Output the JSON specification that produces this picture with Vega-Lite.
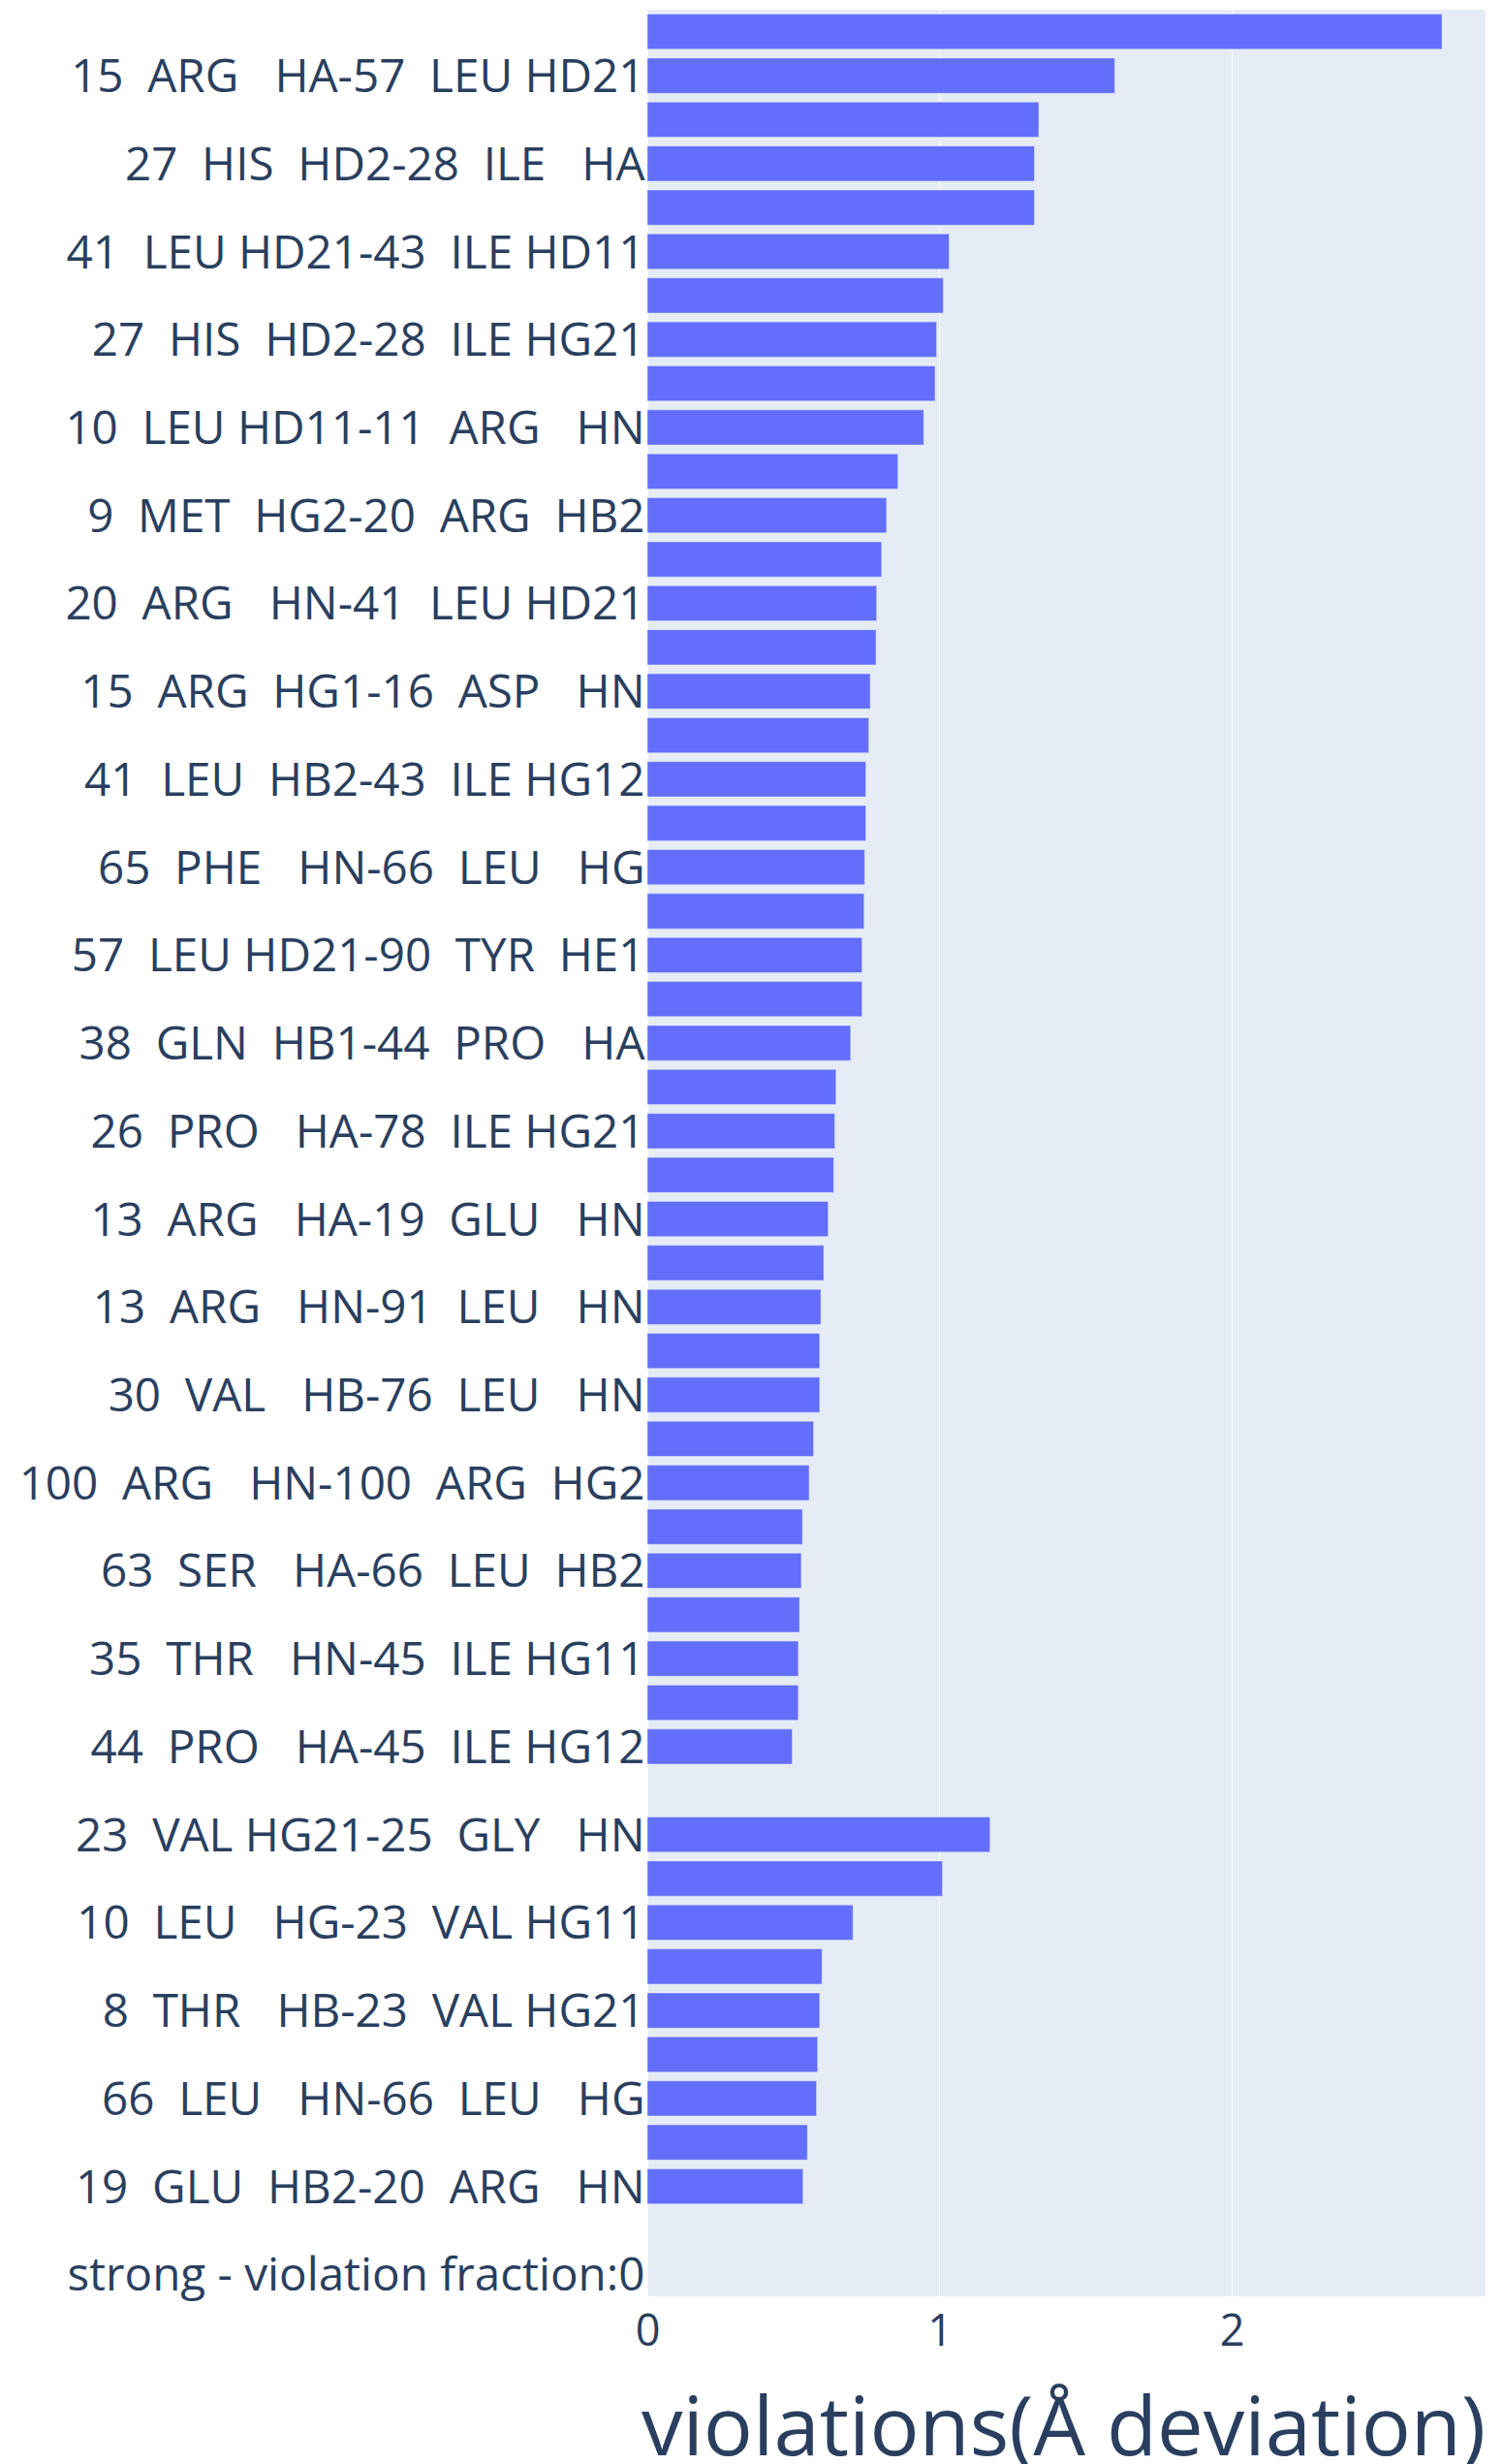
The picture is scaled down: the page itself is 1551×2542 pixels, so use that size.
{
  "$schema": "https://vega.github.io/schema/vega-lite/v6.json",
  "autosize": {"type": "none"},
  "padding": {"left": 668, "top": 10, "right": 18, "bottom": 173},
  "width": 865,
  "height": 2359,
  "background": "white",
  "config": {
    "view": {"fill": "#E5ECF6", "stroke": null},
    "font": "Open Sans"
  },
  "data": {
    "values": [
      {"label": "(unlabelled 51)", "violation": 2.72},
      {"label": "15\u00a0\u00a0ARG\u00a0\u00a0\u00a0HA-57\u00a0\u00a0LEU\u00a0HD21", "violation": 1.6},
      {"label": "(unlabelled 49)", "violation": 1.34},
      {"label": "27\u00a0\u00a0HIS\u00a0\u00a0HD2-28\u00a0\u00a0ILE\u00a0\u00a0\u00a0HA", "violation": 1.325},
      {"label": "(unlabelled 47)", "violation": 1.325},
      {"label": "41\u00a0\u00a0LEU\u00a0HD21-43\u00a0\u00a0ILE\u00a0HD11", "violation": 1.033},
      {"label": "(unlabelled 45)", "violation": 1.013},
      {"label": "27\u00a0\u00a0HIS\u00a0\u00a0HD2-28\u00a0\u00a0ILE\u00a0HG21", "violation": 0.99},
      {"label": "(unlabelled 43)", "violation": 0.985},
      {"label": "10\u00a0\u00a0LEU\u00a0HD11-11\u00a0\u00a0ARG\u00a0\u00a0\u00a0HN", "violation": 0.946},
      {"label": "(unlabelled 41)", "violation": 0.858},
      {"label": "9\u00a0\u00a0MET\u00a0\u00a0HG2-20\u00a0\u00a0ARG\u00a0\u00a0HB2", "violation": 0.819},
      {"label": "(unlabelled 39)", "violation": 0.802},
      {"label": "20\u00a0\u00a0ARG\u00a0\u00a0\u00a0HN-41\u00a0\u00a0LEU\u00a0HD21", "violation": 0.785},
      {"label": "(unlabelled 37)", "violation": 0.783},
      {"label": "15\u00a0\u00a0ARG\u00a0\u00a0HG1-16\u00a0\u00a0ASP\u00a0\u00a0\u00a0HN", "violation": 0.763},
      {"label": "(unlabelled 35)", "violation": 0.758},
      {"label": "41\u00a0\u00a0LEU\u00a0\u00a0HB2-43\u00a0\u00a0ILE\u00a0HG12", "violation": 0.748},
      {"label": "(unlabelled 33)", "violation": 0.748},
      {"label": "65\u00a0\u00a0PHE\u00a0\u00a0\u00a0HN-66\u00a0\u00a0LEU\u00a0\u00a0\u00a0HG", "violation": 0.744},
      {"label": "(unlabelled 31)", "violation": 0.742},
      {"label": "57\u00a0\u00a0LEU\u00a0HD21-90\u00a0\u00a0TYR\u00a0\u00a0HE1", "violation": 0.735},
      {"label": "(unlabelled 29)", "violation": 0.735},
      {"label": "38\u00a0\u00a0GLN\u00a0\u00a0HB1-44\u00a0\u00a0PRO\u00a0\u00a0\u00a0HA", "violation": 0.696},
      {"label": "(unlabelled 27)", "violation": 0.646},
      {"label": "26\u00a0\u00a0PRO\u00a0\u00a0\u00a0HA-78\u00a0\u00a0ILE\u00a0HG21", "violation": 0.642},
      {"label": "(unlabelled 25)", "violation": 0.638},
      {"label": "13\u00a0\u00a0ARG\u00a0\u00a0\u00a0HA-19\u00a0\u00a0GLU\u00a0\u00a0\u00a0HN", "violation": 0.619},
      {"label": "(unlabelled 23)", "violation": 0.604},
      {"label": "13\u00a0\u00a0ARG\u00a0\u00a0\u00a0HN-91\u00a0\u00a0LEU\u00a0\u00a0\u00a0HN", "violation": 0.594},
      {"label": "(unlabelled 21)", "violation": 0.59},
      {"label": "30\u00a0\u00a0VAL\u00a0\u00a0\u00a0HB-76\u00a0\u00a0LEU\u00a0\u00a0\u00a0HN", "violation": 0.59},
      {"label": "(unlabelled 19)", "violation": 0.569},
      {"label": "100\u00a0\u00a0ARG\u00a0\u00a0\u00a0HN-100\u00a0\u00a0ARG\u00a0\u00a0HG2", "violation": 0.554},
      {"label": "(unlabelled 17)", "violation": 0.531},
      {"label": "63\u00a0\u00a0SER\u00a0\u00a0\u00a0HA-66\u00a0\u00a0LEU\u00a0\u00a0HB2", "violation": 0.527},
      {"label": "(unlabelled 15)", "violation": 0.521},
      {"label": "35\u00a0\u00a0THR\u00a0\u00a0\u00a0HN-45\u00a0\u00a0ILE\u00a0HG11", "violation": 0.517},
      {"label": "(unlabelled 13)", "violation": 0.517},
      {"label": "44\u00a0\u00a0PRO\u00a0\u00a0\u00a0HA-45\u00a0\u00a0ILE\u00a0HG12", "violation": 0.496},
      {"label": "(spacer 11)", "violation": null},
      {"label": "23\u00a0\u00a0VAL\u00a0HG21-25\u00a0\u00a0GLY\u00a0\u00a0\u00a0HN", "violation": 1.173},
      {"label": "(unlabelled 9)", "violation": 1.01},
      {"label": "10\u00a0\u00a0LEU\u00a0\u00a0\u00a0HG-23\u00a0\u00a0VAL\u00a0HG11", "violation": 0.704},
      {"label": "(unlabelled 7)", "violation": 0.598},
      {"label": "8\u00a0\u00a0THR\u00a0\u00a0\u00a0HB-23\u00a0\u00a0VAL\u00a0HG21", "violation": 0.59},
      {"label": "(unlabelled 5)", "violation": 0.583},
      {"label": "66\u00a0\u00a0LEU\u00a0\u00a0\u00a0HN-66\u00a0\u00a0LEU\u00a0\u00a0\u00a0HG", "violation": 0.579},
      {"label": "(unlabelled 3)", "violation": 0.548},
      {"label": "19\u00a0\u00a0GLU\u00a0\u00a0HB2-20\u00a0\u00a0ARG\u00a0\u00a0\u00a0HN", "violation": 0.533},
      {"label": "(spacer 1)", "violation": null},
      {"label": "strong - violation fraction:0", "violation": null}
    ]
  },
  "mark": {"type": "bar", "color": "#636EFA", "stroke": "#E5ECF6", "strokeWidth": 0.5},
  "encoding": {
    "y": {
      "field": "label",
      "type": "nominal",
      "scale": {
        "domain": [
          "(unlabelled 51)",
          "15\u00a0\u00a0ARG\u00a0\u00a0\u00a0HA-57\u00a0\u00a0LEU\u00a0HD21",
          "(unlabelled 49)",
          "27\u00a0\u00a0HIS\u00a0\u00a0HD2-28\u00a0\u00a0ILE\u00a0\u00a0\u00a0HA",
          "(unlabelled 47)",
          "41\u00a0\u00a0LEU\u00a0HD21-43\u00a0\u00a0ILE\u00a0HD11",
          "(unlabelled 45)",
          "27\u00a0\u00a0HIS\u00a0\u00a0HD2-28\u00a0\u00a0ILE\u00a0HG21",
          "(unlabelled 43)",
          "10\u00a0\u00a0LEU\u00a0HD11-11\u00a0\u00a0ARG\u00a0\u00a0\u00a0HN",
          "(unlabelled 41)",
          "9\u00a0\u00a0MET\u00a0\u00a0HG2-20\u00a0\u00a0ARG\u00a0\u00a0HB2",
          "(unlabelled 39)",
          "20\u00a0\u00a0ARG\u00a0\u00a0\u00a0HN-41\u00a0\u00a0LEU\u00a0HD21",
          "(unlabelled 37)",
          "15\u00a0\u00a0ARG\u00a0\u00a0HG1-16\u00a0\u00a0ASP\u00a0\u00a0\u00a0HN",
          "(unlabelled 35)",
          "41\u00a0\u00a0LEU\u00a0\u00a0HB2-43\u00a0\u00a0ILE\u00a0HG12",
          "(unlabelled 33)",
          "65\u00a0\u00a0PHE\u00a0\u00a0\u00a0HN-66\u00a0\u00a0LEU\u00a0\u00a0\u00a0HG",
          "(unlabelled 31)",
          "57\u00a0\u00a0LEU\u00a0HD21-90\u00a0\u00a0TYR\u00a0\u00a0HE1",
          "(unlabelled 29)",
          "38\u00a0\u00a0GLN\u00a0\u00a0HB1-44\u00a0\u00a0PRO\u00a0\u00a0\u00a0HA",
          "(unlabelled 27)",
          "26\u00a0\u00a0PRO\u00a0\u00a0\u00a0HA-78\u00a0\u00a0ILE\u00a0HG21",
          "(unlabelled 25)",
          "13\u00a0\u00a0ARG\u00a0\u00a0\u00a0HA-19\u00a0\u00a0GLU\u00a0\u00a0\u00a0HN",
          "(unlabelled 23)",
          "13\u00a0\u00a0ARG\u00a0\u00a0\u00a0HN-91\u00a0\u00a0LEU\u00a0\u00a0\u00a0HN",
          "(unlabelled 21)",
          "30\u00a0\u00a0VAL\u00a0\u00a0\u00a0HB-76\u00a0\u00a0LEU\u00a0\u00a0\u00a0HN",
          "(unlabelled 19)",
          "100\u00a0\u00a0ARG\u00a0\u00a0\u00a0HN-100\u00a0\u00a0ARG\u00a0\u00a0HG2",
          "(unlabelled 17)",
          "63\u00a0\u00a0SER\u00a0\u00a0\u00a0HA-66\u00a0\u00a0LEU\u00a0\u00a0HB2",
          "(unlabelled 15)",
          "35\u00a0\u00a0THR\u00a0\u00a0\u00a0HN-45\u00a0\u00a0ILE\u00a0HG11",
          "(unlabelled 13)",
          "44\u00a0\u00a0PRO\u00a0\u00a0\u00a0HA-45\u00a0\u00a0ILE\u00a0HG12",
          "(spacer 11)",
          "23\u00a0\u00a0VAL\u00a0HG21-25\u00a0\u00a0GLY\u00a0\u00a0\u00a0HN",
          "(unlabelled 9)",
          "10\u00a0\u00a0LEU\u00a0\u00a0\u00a0HG-23\u00a0\u00a0VAL\u00a0HG11",
          "(unlabelled 7)",
          "8\u00a0\u00a0THR\u00a0\u00a0\u00a0HB-23\u00a0\u00a0VAL\u00a0HG21",
          "(unlabelled 5)",
          "66\u00a0\u00a0LEU\u00a0\u00a0\u00a0HN-66\u00a0\u00a0LEU\u00a0\u00a0\u00a0HG",
          "(unlabelled 3)",
          "19\u00a0\u00a0GLU\u00a0\u00a0HB2-20\u00a0\u00a0ARG\u00a0\u00a0\u00a0HN",
          "(spacer 1)",
          "strong - violation fraction:0"
        ],
        "paddingInner": 0.2,
        "paddingOuter": 0.1
      },
      "axis": {
        "values": [
          "15\u00a0\u00a0ARG\u00a0\u00a0\u00a0HA-57\u00a0\u00a0LEU\u00a0HD21",
          "27\u00a0\u00a0HIS\u00a0\u00a0HD2-28\u00a0\u00a0ILE\u00a0\u00a0\u00a0HA",
          "41\u00a0\u00a0LEU\u00a0HD21-43\u00a0\u00a0ILE\u00a0HD11",
          "27\u00a0\u00a0HIS\u00a0\u00a0HD2-28\u00a0\u00a0ILE\u00a0HG21",
          "10\u00a0\u00a0LEU\u00a0HD11-11\u00a0\u00a0ARG\u00a0\u00a0\u00a0HN",
          "9\u00a0\u00a0MET\u00a0\u00a0HG2-20\u00a0\u00a0ARG\u00a0\u00a0HB2",
          "20\u00a0\u00a0ARG\u00a0\u00a0\u00a0HN-41\u00a0\u00a0LEU\u00a0HD21",
          "15\u00a0\u00a0ARG\u00a0\u00a0HG1-16\u00a0\u00a0ASP\u00a0\u00a0\u00a0HN",
          "41\u00a0\u00a0LEU\u00a0\u00a0HB2-43\u00a0\u00a0ILE\u00a0HG12",
          "65\u00a0\u00a0PHE\u00a0\u00a0\u00a0HN-66\u00a0\u00a0LEU\u00a0\u00a0\u00a0HG",
          "57\u00a0\u00a0LEU\u00a0HD21-90\u00a0\u00a0TYR\u00a0\u00a0HE1",
          "38\u00a0\u00a0GLN\u00a0\u00a0HB1-44\u00a0\u00a0PRO\u00a0\u00a0\u00a0HA",
          "26\u00a0\u00a0PRO\u00a0\u00a0\u00a0HA-78\u00a0\u00a0ILE\u00a0HG21",
          "13\u00a0\u00a0ARG\u00a0\u00a0\u00a0HA-19\u00a0\u00a0GLU\u00a0\u00a0\u00a0HN",
          "13\u00a0\u00a0ARG\u00a0\u00a0\u00a0HN-91\u00a0\u00a0LEU\u00a0\u00a0\u00a0HN",
          "30\u00a0\u00a0VAL\u00a0\u00a0\u00a0HB-76\u00a0\u00a0LEU\u00a0\u00a0\u00a0HN",
          "100\u00a0\u00a0ARG\u00a0\u00a0\u00a0HN-100\u00a0\u00a0ARG\u00a0\u00a0HG2",
          "63\u00a0\u00a0SER\u00a0\u00a0\u00a0HA-66\u00a0\u00a0LEU\u00a0\u00a0HB2",
          "35\u00a0\u00a0THR\u00a0\u00a0\u00a0HN-45\u00a0\u00a0ILE\u00a0HG11",
          "44\u00a0\u00a0PRO\u00a0\u00a0\u00a0HA-45\u00a0\u00a0ILE\u00a0HG12",
          "23\u00a0\u00a0VAL\u00a0HG21-25\u00a0\u00a0GLY\u00a0\u00a0\u00a0HN",
          "10\u00a0\u00a0LEU\u00a0\u00a0\u00a0HG-23\u00a0\u00a0VAL\u00a0HG11",
          "8\u00a0\u00a0THR\u00a0\u00a0\u00a0HB-23\u00a0\u00a0VAL\u00a0HG21",
          "66\u00a0\u00a0LEU\u00a0\u00a0\u00a0HN-66\u00a0\u00a0LEU\u00a0\u00a0\u00a0HG",
          "19\u00a0\u00a0GLU\u00a0\u00a0HB2-20\u00a0\u00a0ARG\u00a0\u00a0\u00a0HN",
          "strong - violation fraction:0"
        ],
        "title": null,
        "ticks": false,
        "tickSize": 0,
        "domain": false,
        "grid": false,
        "labelFont": "Open Sans",
        "labelFontSize": 47.6,
        "labelColor": "#2a3f5f",
        "labelPadding": 3,
        "labelOffset": 3,
        "labelLimit": 2000
      }
    },
    "x": {
      "field": "violation",
      "type": "quantitative",
      "scale": {"domain": [0, 2.869], "nice": false, "zero": true},
      "axis": {
        "values": [0, 1, 2],
        "format": "d",
        "title": "violations(Å deviation)",
        "titleFont": "Open Sans",
        "titleFontSize": 85,
        "titleFontWeight": "normal",
        "titleColor": "#2a3f5f",
        "titleBaseline": "alphabetic",
        "titleAlign": "center",
        "titleX": 429,
        "titleY": 163,
        "ticks": false,
        "tickSize": 0,
        "domain": false,
        "grid": true,
        "gridColor": "white",
        "gridWidth": 1,
        "labelFont": "Open Sans",
        "labelFontSize": 45,
        "labelColor": "#2a3f5f",
        "labelBaseline": "alphabetic",
        "labelPadding": 50,
        "labelFlush": false
      }
    }
  }
}
